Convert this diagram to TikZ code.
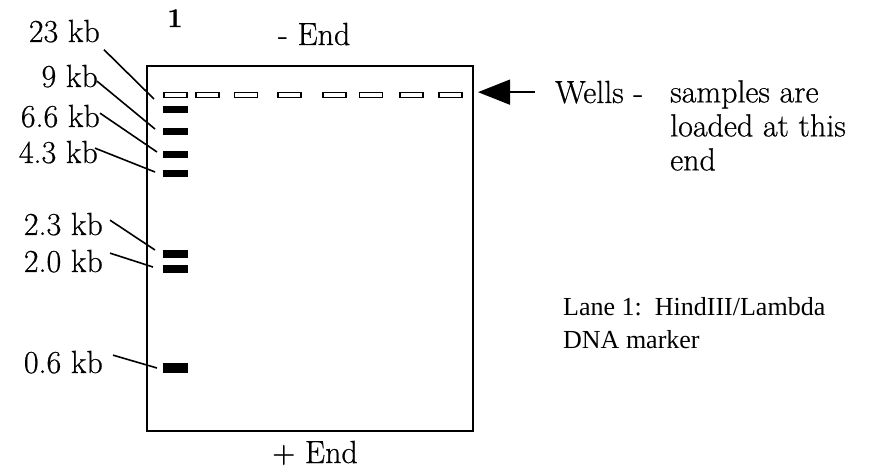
\documentclass[tikz,border=0pt]{standalone}
\usepackage{fontspec}
\setmainfont{Latin Modern Roman}[FakeBold=0.6]
\newfontfamily\timesfont{Liberation Serif}
\usetikzlibrary{arrows.meta}

\begin{document}
\begin{tikzpicture}[x=1pt, y=-1pt,
  every node/.style={inner sep=0pt, font=\fontsize{32}{38}\selectfont},
  well/.style={draw, line width=1.9pt, minimum width=23pt, minimum height=5pt},
  band/.style={fill=black, minimum width=25pt, minimum height=7pt},
  size/.style={anchor=base east},
  pointer/.style={line width=1.6pt}]
  \useasboundingbox (0,0) rectangle (871,468);

  % the gel
  \node[draw, line width=2pt, minimum width=326pt, minimum height=365pt] at (310,248.5) (gel) {};
  \node[anchor=base west] at (278,45) (minus) {- End};
  \node[anchor=base] at (315,463) (plus) {+ End};
  \node[anchor=base, font=\bfseries\fontsize{27}{30}\selectfont] at (175,27) (lane) {1};

  % wells along the top
  \foreach \x [count=\i] in {175.5,207.5,246,289.5,334.5,371,411.5,450.5}
    \node[well] at (\x,95) (w\i) {};

  % marker bands in lane 1
  \node[band] at (175.5,110) (b23k) {};
  \node[band] at (175.5,131.5) (b9k) {};
  \node[band] at (175.5,155) (b6k6) {};
  \node[band] at (175.5,174) (b4k3) {};
  \node[band, minimum height=8pt] at (175.5,254) (b2k3) {};
  \node[band, minimum height=8pt] at (175.5,269) (b2k0) {};
  \node[band, minimum height=10pt] at (175.5,368) (b0k6) {};

  % sizes
  \node[size] at (100,42) (lab23k) {23 kb};
  \node[size] at (98,87) (lab9k) {9 kb};
  \node[size] at (100,127) (lab6k6) {6.6 kb};
  \node[size] at (98,163) (lab4k3) {4.3 kb};
  \node[size] at (103,235) (lab2k3) {2.3 kb};
  \node[size] at (103,272) (lab2k0) {2.0 kb};
  \node[size] at (103,373) (lab0k6) {0.6 kb};

  \coordinate (p23k) at (154,99);
  \coordinate (p9k) at (155,129);
  \coordinate (p6k6) at (157,152);
  \coordinate (p4k3) at (155,172);
  \coordinate (p2k3) at (155,250);
  \coordinate (p2k0) at (153,267);
  \coordinate (p0k6) at (157,368);

  \draw[pointer] ([shift={(4,7)}]lab23k.south east) -- (p23k);
  \draw[pointer] ([shift={(-1,5)}]lab9k.east) -- (p9k);
  \draw[pointer] ([shift={(0,-3)}]lab6k6.east) -- (p6k6);
  \draw[pointer] ([shift={(-3,-4)}]lab4k3.east) -- (p4k3);
  \draw[pointer] ([shift={(7,-4)}]lab2k3.east) -- (p2k3);
  \draw[pointer] ([shift={(7,-8)}]lab2k0.east) -- (p2k0);
  \draw[pointer] ([shift={(10,-7)}]lab0k6.east) -- (p0k6);

  % wells arrow and notes
  \node[anchor=base west] at (555,103) (wells) {Wells -};
  \node[anchor=north west, align=left, font=\fontsize{32}{34}\selectfont] at (670,80) (loaded) {samples are\\loaded at this\\end};
  \draw[line width=1.5pt, -{Triangle[length=32pt,width=25pt]}, shorten <=20pt, shorten >=4pt]
    (wells.west) -- (gel.east |- wells.west);

  \node[anchor=north west, align=left, font=\timesfont\fontsize{26}{33}\selectfont] at (563,297) (note) {Lane 1:\ \ HindIII/Lambda\\DNA marker};
\end{tikzpicture}
\end{document}
